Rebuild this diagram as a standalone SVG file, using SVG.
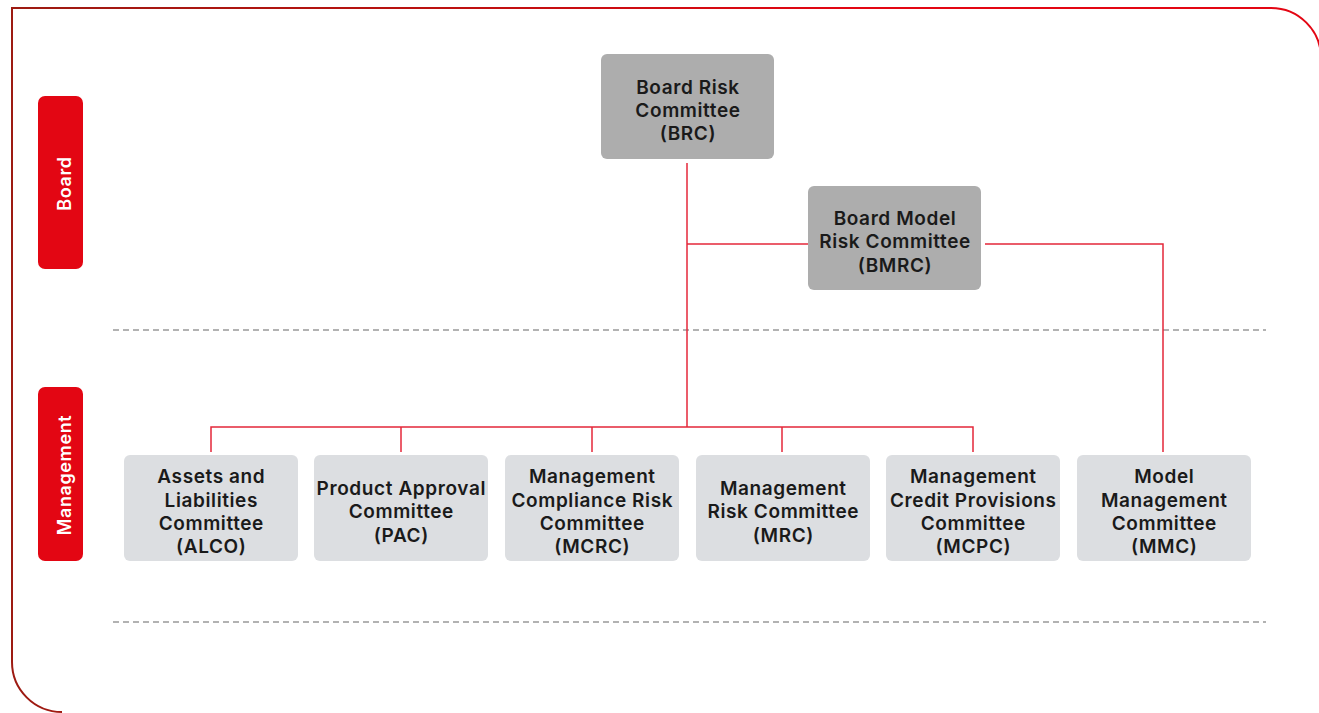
<svg xmlns="http://www.w3.org/2000/svg" width="1319" height="713" viewBox="0 0 1319 713">
<defs>
<linearGradient id="fg" x1="0" y1="0" x2="1319" y2="0" gradientUnits="userSpaceOnUse">
<stop offset="0" stop-color="#9c1b12"/>
<stop offset="0.3" stop-color="#b8120f"/>
<stop offset="0.65" stop-color="#e30613"/>
<stop offset="1" stop-color="#e30613"/>
</linearGradient>
<style>
.pill{fill:#e30613}
.pt{fill:#ffffff;font-family:Inter,"Liberation Sans",sans-serif;font-weight:600;font-size:18px;letter-spacing:0.6px;text-anchor:middle}
.top{fill:#adadad}
.bot{fill:#dcdee1}
.t{fill:#1a1a1a;font-family:Inter,"Liberation Sans",sans-serif;font-weight:600;font-size:19px;letter-spacing:0.6px;text-anchor:middle}
.c{fill:none;stroke:#e4273a;stroke-width:1.5}
.d{fill:none;stroke:#999999;stroke-width:1.5;stroke-dasharray:6 4}
</style>
</defs>
<rect width="1319" height="713" fill="#ffffff"/>
<path d="M1321,58 A50,50 0 0 0 1271,8 L12,8 L12,662 A50,50 0 0 0 62,712" fill="none" stroke="url(#fg)" stroke-width="2"/>
<g id="lanes">
<line class="d" x1="113" y1="330" x2="1266" y2="330"/>
<line class="d" x1="113" y1="622" x2="1266" y2="622"/>
</g>
<g id="board-label">
<rect class="pill" x="38" y="96" width="45" height="173" rx="7"/>
<text class="pt" transform="translate(71,183.5) rotate(-90)">Board</text>
</g>
<g id="management-label">
<rect class="pill" x="38" y="387" width="45" height="174" rx="7"/>
<text class="pt" transform="translate(71,475) rotate(-90)">Management</text>
</g>
<g id="connectors">
<polyline class="c" points="687,163 687,427"/>
<polyline class="c" points="687,244 808,244"/>
<polyline class="c" points="985,244 1163,244 1163,452"/>
<polyline class="c" points="211,452 211,427 973,427 973,452"/>
<line class="c" x1="401" y1="427" x2="401" y2="452"/>
<line class="c" x1="592" y1="427" x2="592" y2="452"/>
<line class="c" x1="782" y1="427" x2="782" y2="452"/>
</g>
<g id="brc">
<rect class="top" x="601" y="54" width="173" height="105" rx="6"/>
<text class="t" x="688" y="94">Board Risk</text>
<text class="t" x="688" y="117">Committee</text>
<text class="t" x="688" y="140">(BRC)</text>
</g>
<g id="bmrc">
<rect class="top" x="808" y="186" width="173" height="104" rx="6"/>
<text class="t" x="895" y="225">Board Model</text>
<text class="t" x="895" y="248">Risk Committee</text>
<text class="t" x="895" y="272">(BMRC)</text>
</g>
<g id="alco">
<rect class="bot" x="124" y="455" width="174" height="106" rx="6"/>
<text class="t" x="211.3" y="483">Assets and</text>
<text class="t" x="211.3" y="507">Liabilities</text>
<text class="t" x="211.3" y="530">Committee</text>
<text class="t" x="211.3" y="553">(ALCO)</text>
</g>
<g id="pac">
<rect class="bot" x="314" y="455" width="174" height="106" rx="6"/>
<text class="t" x="401.3" y="495">Product Approval</text>
<text class="t" x="401.3" y="518">Committee</text>
<text class="t" x="401.3" y="542">(PAC)</text>
</g>
<g id="mcrc">
<rect class="bot" x="505" y="455" width="174" height="106" rx="6"/>
<text class="t" x="592.3" y="483">Management</text>
<text class="t" x="592.3" y="507">Compliance Risk</text>
<text class="t" x="592.3" y="530">Committee</text>
<text class="t" x="592.3" y="553">(MCRC)</text>
</g>
<g id="mrc">
<rect class="bot" x="696" y="455" width="174" height="106" rx="6"/>
<text class="t" x="783.3" y="495">Management</text>
<text class="t" x="783.3" y="518">Risk Committee</text>
<text class="t" x="783.3" y="542">(MRC)</text>
</g>
<g id="mcpc">
<rect class="bot" x="886" y="455" width="174" height="106" rx="6"/>
<text class="t" x="973.3" y="483">Management</text>
<text class="t" x="973.3" y="507">Credit Provisions</text>
<text class="t" x="973.3" y="530">Committee</text>
<text class="t" x="973.3" y="553">(MCPC)</text>
</g>
<g id="mmc">
<rect class="bot" x="1077" y="455" width="174" height="106" rx="6"/>
<text class="t" x="1164.3" y="483">Model</text>
<text class="t" x="1164.3" y="507">Management</text>
<text class="t" x="1164.3" y="530">Committee</text>
<text class="t" x="1164.3" y="553">(MMC)</text>
</g>
</svg>
